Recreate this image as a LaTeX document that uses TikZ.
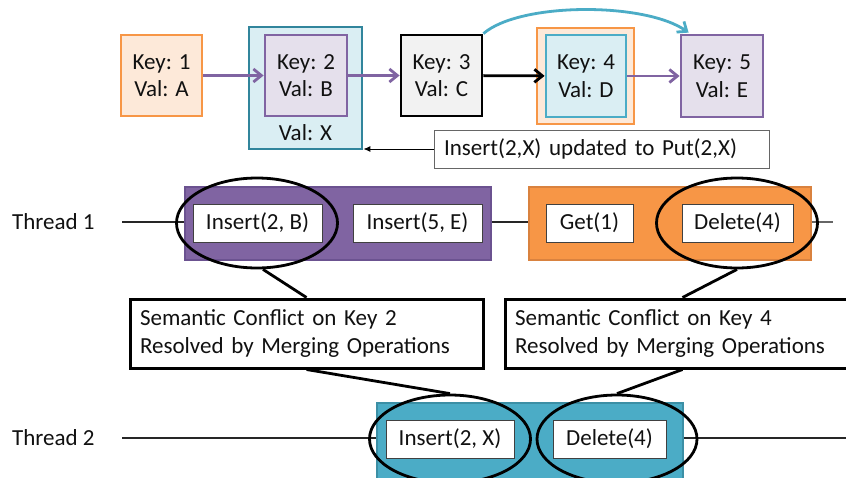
\documentclass[tikz,border=0pt]{standalone}
\usepackage{fontspec}
\setmainfont{Carlito}
\usetikzlibrary{arrows.meta,shapes.geometric}
\definecolor{orangeline}{HTML}{F79646}
\definecolor{orangefill}{HTML}{FDE9D9}
\definecolor{orangedark}{HTML}{D9823F}
\definecolor{tealline}{HTML}{31859C}
\definecolor{tealfill}{HTML}{DAEEF3}
\definecolor{aqua}{HTML}{4BACC6}
\definecolor{aquadark}{HTML}{3C8FA5}
\definecolor{purpleline}{HTML}{8064A2}
\definecolor{purpledark}{HTML}{6B5290}
\definecolor{purplefill}{HTML}{E5E0EC}
\definecolor{grayfill}{HTML}{F2F2F2}
\definecolor{textcol}{HTML}{111111}
\tikzset{
  kv/.style={line width=2.8pt, inner sep=0pt, align=center, minimum width=81pt, minimum height=81pt},
  op/.style={draw=black!75, fill=white, line width=0.8pt, inner sep=0pt, minimum height=38pt},
  lane/.style={line width=1.6pt, inner sep=0pt, minimum height=73pt},
  focus/.style={ellipse, draw=black, line width=2.8pt, inner sep=0pt, minimum width=161pt},
  callout/.style={draw=black, fill=white, line width=3pt, inner xsep=10pt, minimum height=69pt, align=left},
  link/.style={line width=2.8pt, -{Straight Barb[length=8pt,width=13pt]}},
  wire/.style={line width=1.1pt, black!85},
  tie/.style={line width=2.8pt, black},
}
\begin{document}
\begin{tikzpicture}[x=1pt, y=-1pt, font=\fontsize{23}{27.5}\selectfont, text=textcol]
\clip (0,0) rectangle (846,477);
\fill[white] (0,0) rectangle (846,477);

% ---- linked list ----
\node[kv, draw=orangeline, fill=orangefill] (k1) at (161.5,75.5) {Key: 1\\Val: A};
\node[kv, draw=tealline, fill=tealfill, minimum width=113pt, minimum height=122pt] (k2o) at (305.5,88) {};
\node[kv, draw=purpleline, fill=purplefill, minimum width=82pt] (k2) at (306,75.5) {Key: 2\\Val: B};
\node (valx) at (305.5,133) {Val: X};
\node[kv, draw=black, fill=grayfill] (k3) at (441.5,75.5) {Key: 3\\Val: C};
\node[kv, draw=orangeline, fill=orangefill, minimum width=97pt, minimum height=96pt] (k4o) at (585.5,76) {};
\node[kv, draw=aqua, fill=tealfill, minimum width=80pt, minimum height=82pt] (k4) at (586,76) {Key: 4\\Val: D};
\node[kv, draw=purpleline, fill=purplefill, minimum width=82pt, minimum height=82pt] (k5) at (722,76) {Key: 5\\Val: E};

\draw[link, purpleline] (k1) -- (k2);
\draw[link, purpleline] (k2) -- (k3);
\draw[link, black] (k3) -- (k4);
\draw[link, purpleline] (k4) -- (k5);
\draw[link, aqua] (k3.north east) .. controls (520,2) and (645,2) .. ([xshift=9pt,yshift=1pt]k5.north west);

\node[draw=black!60, line width=1pt, fill=white, inner xsep=10pt, inner ysep=0pt,
      minimum height=38pt, text width=315pt, align=left] (put) at (601.5,149) {Insert(2,X) updated to Put(2,X)};
\draw[line width=1pt, -{Latex[length=7pt,width=6pt]}] (put.west) -- (put.west -| k2o.east);

% ---- thread 1 ----
\node[anchor=west, inner sep=0pt] (t1) at (12,222) {Thread 1};
\coordinate (t1a) at (122,222);
\coordinate (t1b) at (833,222);
\node[lane, draw=purpledark, fill=purpleline, minimum width=306pt] (lane1a) at (338,223.5) {};
\node[lane, draw=orangedark, fill=orangeline, minimum width=282pt] (lane1b) at (670,223.5) {};
\draw[wire] (t1a) -- (t1a -| lane1a.west);
\draw[wire] (t1a -| lane1a.east) -- (t1a -| lane1b.west);
\draw[wire, black!60] (t1a -| lane1b.east) -- (t1b);
\node[op, minimum width=129pt] (ins2b) at (257.5,223) {Insert(2, B)};
\node[op, minimum width=129pt] (ins5e) at (417.5,223) {Insert(5, E)};
\node[op, minimum width=87pt] (get1) at (589.5,223) {Get(1)};
\node[op, minimum width=111pt] (del4a) at (737.5,223) {Delete(4)};
\node[focus, minimum height=90pt] (e1) at (257,223) {};
\node[focus, minimum height=90pt] (e2) at (737,223) {};

% ---- thread 2 ----
\node[anchor=west, inner sep=0pt] (t2) at (12,438) {Thread 2};
\coordinate (t2a) at (122,438);
\coordinate (t2b) at (846,438);
\node[lane, draw=aquadark, fill=aqua, minimum width=306pt, minimum height=80pt] (lane2) at (530,443) {};
\draw[wire] (t2a) -- (t2a -| lane2.west);
\draw[wire] (t2a -| lane2.east) -- (t2b);
\node[op, minimum width=128pt] (ins2x) at (450,439) {Insert(2, X)};
\node[op, minimum width=113pt] (del4b) at (609.5,439) {Delete(4)};
\node[focus, minimum height=88pt] (e3) at (450,439) {};
\node[focus, minimum height=88pt, minimum width=160pt] (e4) at (617,439) {};

% ---- conflict callouts ----
\node[callout, text width=333pt] (c1) at (306.5,333.5) {Semantic Conflict on Key 2\\Resolved by Merging Operations};
\node[callout, text width=327pt] (c2) at (678.5,333.5) {Semantic Conflict on Key 4\\Resolved by Merging Operations};
\draw[tie] ([xshift=6pt]e1.south) -- (c1.north);
\draw[tie] (e2.south) -- ([xshift=4pt]c2.north);
\draw[tie] (c1.south) -- (e3.north);
\draw[tie] ([xshift=4pt]c2.south) -- (e4.north);
\end{tikzpicture}
\end{document}
